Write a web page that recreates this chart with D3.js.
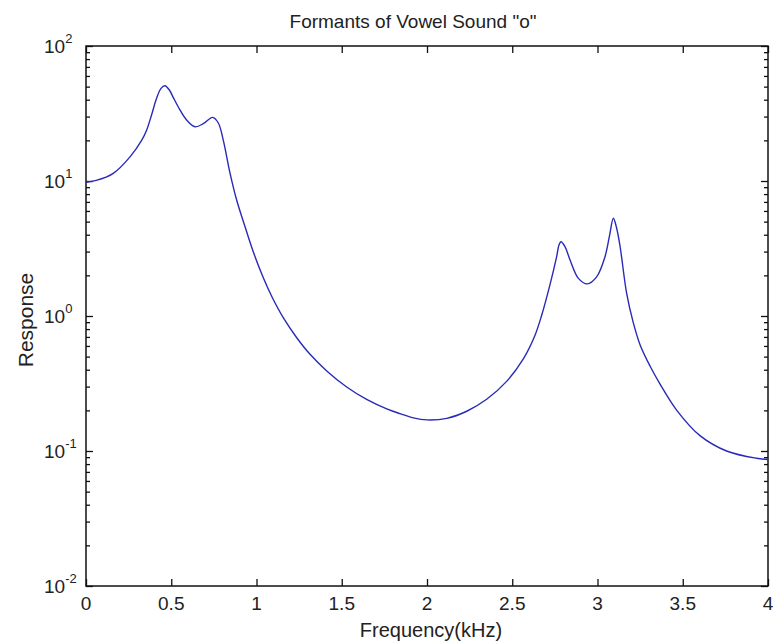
<!DOCTYPE html>
<html>
<head>
<meta charset="utf-8">
<script src="https://cdn.jsdelivr.net/npm/d3@7"></script>
<style>
  html, body { margin: 0; padding: 0; background: #fff; }
  svg text { font-family: "Liberation Sans", Arial, sans-serif; fill: #222; }
</style>
</head>
<body>
<svg id="chart" width="773" height="643"></svg>
<script>
// Frequency samples (kHz) and the filter response magnitude at each
const freqKHz = [
  0, 0.06, 0.16, 0.258, 0.327, 0.356, 0.385, 0.414, 0.44, 0.463, 0.49, 0.512,
  0.551, 0.59, 0.64, 0.69, 0.743, 0.776, 0.805, 0.845, 0.884, 0.933, 0.981,
  1.04, 1.089, 1.157, 1.236, 1.314, 1.412, 1.529, 1.646, 1.764, 1.842, 1.92,
  2.0, 2.116, 2.233, 2.35, 2.467, 2.565, 2.633, 2.673, 2.721, 2.761, 2.774,
  2.786, 2.81, 2.839, 2.888, 2.94, 2.995, 3.044, 3.07, 3.093, 3.11,
  3.132, 3.171, 3.209, 3.25, 3.308, 3.367, 3.464, 3.601, 3.757, 3.933, 4.0
];
const response = [
  9.8, 10.1, 11.4, 15.1, 20.1, 23.9, 31.0, 41, 48.5, 50.8, 47, 41.5,
  33.6, 28.3, 25.2, 26.7, 29.6, 26.9, 20.1, 11.4, 7.2, 4.58, 2.99,
  1.92, 1.40, 0.971, 0.690, 0.520, 0.392, 0.298, 0.241, 0.205, 0.189, 0.176,
  0.170, 0.1746, 0.197, 0.2415, 0.328, 0.481, 0.717, 1.017, 1.70, 2.78, 3.36,
  3.55, 3.25, 2.6, 1.9, 1.73, 1.95, 2.75, 3.9, 5.3, 4.6,
  3.3, 1.47, 0.90, 0.61, 0.426, 0.313, 0.201, 0.130, 0.100, 0.0883, 0.0865
];
const xTicks = [0, 0.5, 1, 1.5, 2, 2.5, 3, 3.5, 4];
const xTickLabels = ["0", "0.5", "1", "1.5", "2", "2.5", "3", "3.5", "4"];
const yDecades = [1e-2, 1e-1, 1e0, 1e1, 1e2];
const yExponents = ["-2", "-1", "0", "1", "2"];

const titleText = 'Formants of Vowel Sound "o"';
const xLabelText = "Frequency(kHz)";
const yLabelText = "Response";

const svg = d3.select("#chart");
const plotL = 86, plotR = 768, plotT = 46, plotB = 586;

const x = d3.scaleLinear().domain([0, 4]).range([plotL, plotR]);
const y = d3.scaleLog().domain([1e-2, 1e2]).range([plotB, plotT]);

// minor log ticks (2..9 within each decade)
const minorTicks = [];
for (let i = 0; i < yDecades.length - 1; i++) {
  for (let k = 2; k <= 9; k++) minorTicks.push(yDecades[i] * k);
}

const tickColor = "#111";

// bottom & top x ticks (inward)
const xAxisBottom = d3.axisBottom(x).tickValues(xTicks).tickSize(-7).tickFormat("");
const xAxisTop = d3.axisTop(x).tickValues(xTicks).tickSize(-7).tickFormat("");
svg.append("g").attr("transform", `translate(0,${plotB})`).call(xAxisBottom);
svg.append("g").attr("transform", `translate(0,${plotT})`).call(xAxisTop);

// left & right y ticks (inward), majors longer than minors
const yMajL = d3.axisLeft(y).tickValues(yDecades).tickSize(-7).tickFormat("");
const yMinL = d3.axisLeft(y).tickValues(minorTicks).tickSize(-4).tickFormat("");
const yMajR = d3.axisRight(y).tickValues(yDecades).tickSize(-7).tickFormat("");
const yMinR = d3.axisRight(y).tickValues(minorTicks).tickSize(-4).tickFormat("");
svg.append("g").attr("transform", `translate(${plotL},0)`).call(yMajL);
svg.append("g").attr("transform", `translate(${plotL},0)`).call(yMinL);
svg.append("g").attr("transform", `translate(${plotR},0)`).call(yMajR);
svg.append("g").attr("transform", `translate(${plotR},0)`).call(yMinR);

svg.selectAll(".domain").remove();
svg.selectAll(".tick line").attr("stroke", tickColor).attr("stroke-width", 1.3);

// plot box
svg.append("rect")
  .attr("x", plotL).attr("y", plotT)
  .attr("width", plotR - plotL).attr("height", plotB - plotT)
  .attr("fill", "none").attr("stroke", tickColor).attr("stroke-width", 1.5);

// response curve
const pts = freqKHz.map((f, i) => [f, response[i]]);
const line = d3.line()
  .x(d => x(d[0]))
  .y(d => y(d[1]))
  .curve(d3.curveCatmullRom.alpha(0.5));
svg.append("path")
  .datum(pts)
  .attr("d", line)
  .attr("fill", "none")
  .attr("stroke", "#2a2ab8")
  .attr("stroke-width", 1.4)
  .attr("stroke-linejoin", "round");

// x tick labels
svg.append("g").selectAll("text")
  .data(xTicks)
  .join("text")
  .attr("x", d => x(d))
  .attr("y", plotB + 24)
  .attr("text-anchor", "middle")
  .attr("font-size", 19)
  .text((d, i) => xTickLabels[i]);

// y tick labels: 10 with superscript exponent
const yl = svg.append("g").selectAll("text")
  .data(yDecades)
  .join("text")
  .attr("x", 44)
  .attr("y", d => y(d) + 7)
  .attr("text-anchor", "start")
  .attr("font-size", 19);
yl.append("tspan").text("10");
yl.append("tspan")
  .attr("dy", -10)
  .attr("font-size", 13)
  .text((d, i) => yExponents[i]);

// title and axis labels
svg.append("text")
  .attr("x", 413).attr("y", 28)
  .attr("text-anchor", "middle").attr("font-size", 19)
  .text(titleText);
svg.append("text")
  .attr("x", 431).attr("y", 637)
  .attr("text-anchor", "middle").attr("font-size", 20)
  .text(xLabelText);
svg.append("text")
  .attr("transform", `translate(33,320) rotate(-90)`)
  .attr("text-anchor", "middle").attr("font-size", 21)
  .text(yLabelText);
</script>
</body>
</html>
